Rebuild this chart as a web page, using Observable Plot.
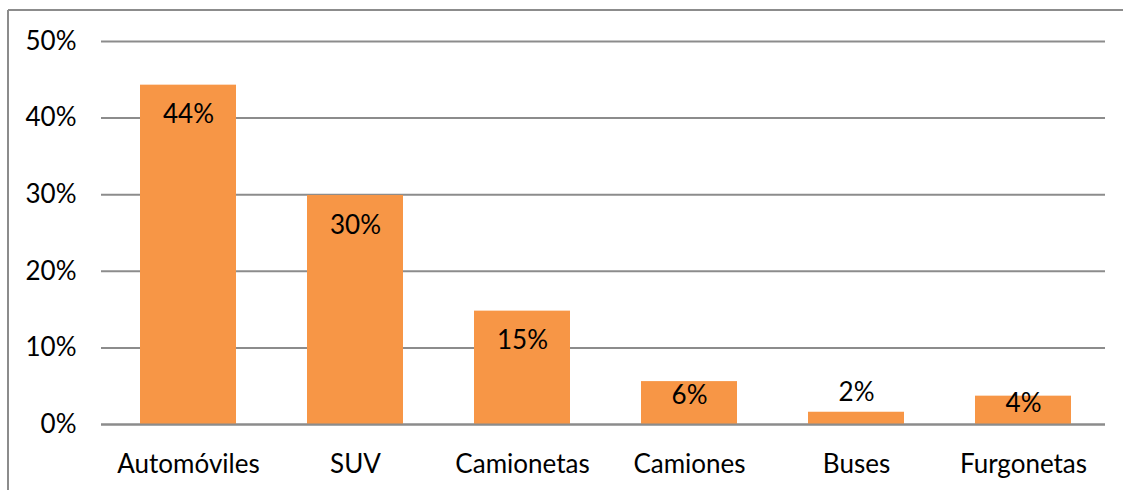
<!DOCTYPE html>
<html>
<head>
<meta charset="utf-8">
<script src="https://cdn.jsdelivr.net/npm/d3@7"></script>
<script src="https://cdn.jsdelivr.net/npm/@observablehq/plot@0.6"></script>
<style>
  html, body { margin: 0; padding: 0; background: #fff; }
  #chart { position: relative; width: 1123px; height: 490px; overflow: hidden; }
  #chart svg { display: block; }
</style>
</head>
<body>
<div id="chart"></div>
<script>
const categories = ["Automóviles", "SUV", "Camionetas", "Camiones", "Buses", "Furgonetas"];
const values = [0.443, 0.299, 0.148, 0.056, 0.016, 0.037];
const valueLabels = ["44%", "30%", "15%", "6%", "2%", "4%"];
const yTicks = [0, 0.1, 0.2, 0.3, 0.4, 0.5];

const W = 1123, H = 490;
const mTop = 41, mBottom = 66, mLeft = 101, mRight = 18;
const font = "Lato, 'Open Sans', sans-serif";
const fs = 26;

// mirror of the y scale, used to place labels Excel-style (inside end / above for tiny bars)
const yMirror = d3.scaleLinear([0, 0.5], [H - mBottom, mTop]);
const data = categories.map((c, i) => {
  const v = values[i];
  const py = yMirror(v), h = yMirror(0) - py;
  let off;
  if (h < 20) off = -20;
  else off = Math.min(30, h / 2 - 7);
  return { cat: c, value: v, label: valueLabels[i], ly: yMirror.invert(py + off) };
});

const chart = Plot.plot({
  width: W,
  height: H,
  marginTop: mTop,
  marginBottom: mBottom,
  marginLeft: mLeft,
  marginRight: mRight,
  style: { fontFamily: font, fontSize: fs + "px", color: "#000", background: "#fff", overflow: "visible" },
  x: { domain: categories, paddingInner: 0.425, paddingOuter: 0.2125, align: 0.53, label: null, tickSize: 0, tickPadding: 30 },
  y: { domain: [0, 0.5], ticks: yTicks, tickFormat: d => Math.round(d * 100) + "%", label: null, tickSize: 0, tickPadding: 25 },
  marks: [
    Plot.gridY(yTicks, { stroke: "#8c8c8c", strokeOpacity: 1, strokeWidth: 2 }),
    Plot.barY(data, { x: "cat", y: "value", fill: "#f79646" }),
    Plot.ruleY([0], { stroke: "#8c8c8c", strokeWidth: 2 }),
    Plot.ruleX([0], { x: () => null, frameAnchor: "left", y1: 0, y2: 0.5, stroke: "#8c8c8c", strokeWidth: 2 }),
    Plot.text(data, { x: "cat", y: "ly", text: "label", fontSize: fs, fill: "#000", fontFamily: font })
  ]
});

document.getElementById("chart").appendChild(chart);

// outer chart-area border (top & left visible, as in the reference)
const svg = d3.select(chart);
svg.append("line").attr("x1", 8).attr("x2", W + 5).attr("y1", 10).attr("y2", 10)
  .attr("stroke", "#8c8c8c").attr("stroke-width", 2);
svg.append("line").attr("x1", 8).attr("x2", 8).attr("y1", 10).attr("y2", H + 5)
  .attr("stroke", "#8c8c8c").attr("stroke-width", 2);
</script>
</body>
</html>
